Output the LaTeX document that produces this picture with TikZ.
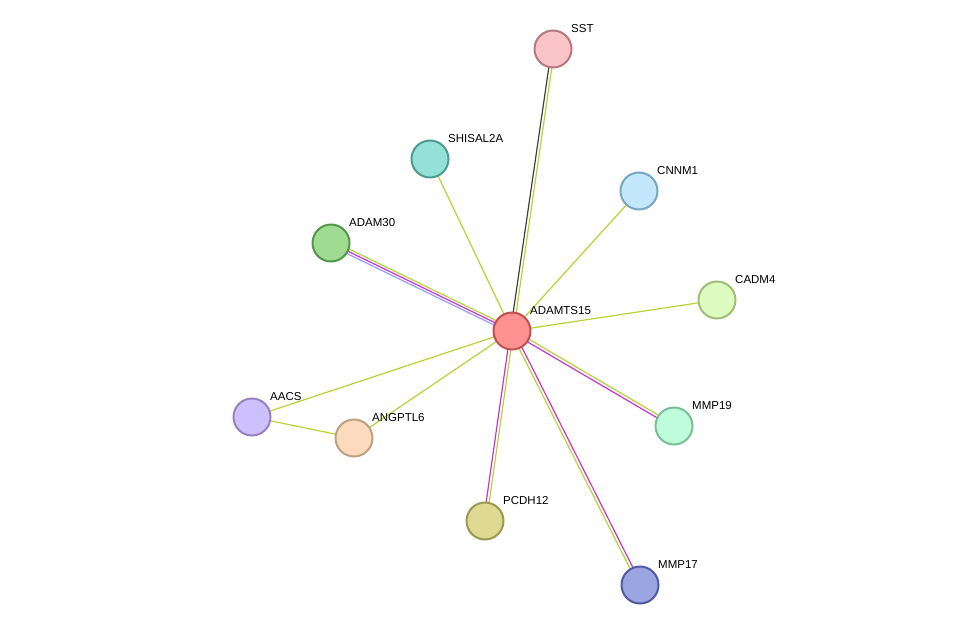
\documentclass[tikz,border=0pt]{standalone}
\usepackage{fontspec}
\setmainfont{Liberation Sans}
\usetikzlibrary{calc}
\definecolor{ygc}{HTML}{B5D334}
\definecolor{mgc}{HTML}{CC33CC}
\definecolor{blc}{HTML}{9999FF}
\begin{document}
\begin{tikzpicture}[x=1pt,y=-1pt,
  prot/.style={circle,minimum size=37pt,inner sep=0pt,line width=2pt},
  lbl/.style={font=\fontsize{11.5}{12}\selectfont,anchor=south west,inner sep=0pt},
  yg/.style={draw=ygc,line width=1.2pt},
  mg/.style={draw=mgc,line width=1.2pt},
  bk/.style={draw=black!75,line width=1.2pt},
  bl/.style={draw=blc,line width=1.2pt}]
\useasboundingbox (0,0) rectangle (976,631);
\coordinate (c) at (512,331);
\coordinate (sst) at (553,49);
\coordinate (shi) at (430,159);
\coordinate (cnn) at (639,191);
\coordinate (ad30) at (331,243);
\coordinate (cad) at (717,300);
\coordinate (aacs) at (252,417);
\coordinate (ang) at (354,438);
\coordinate (m19) at (674,426);
\coordinate (pc) at (485,521);
\coordinate (m17) at (640,585);
\newcommand{\off}[4]{\draw[#1] ($(#2)!#4!90:(#3)$) -- ($(#3)!#4!-90:(#2)$);}
\off{bk}{c}{sst}{1.5pt}\off{yg}{c}{sst}{-1.5pt}
\draw[yg] (c)--(shi); \draw[yg] (c)--(cnn); \draw[yg] (c)--(cad);
\draw[yg] (c)--(aacs); \draw[yg] (c)--(ang); \draw[yg] (aacs)--(ang);
\off{yg}{c}{ad30}{-2.5pt}\off{mg}{c}{ad30}{0pt}\off{bl}{c}{ad30}{2.5pt}
\off{mg}{c}{m19}{-1.5pt}\off{yg}{c}{m19}{1.5pt}
\off{mg}{c}{pc}{-1.5pt}\off{yg}{c}{pc}{1.5pt}
\off{mg}{c}{m17}{1.5pt}\off{yg}{c}{m17}{-1.5pt}
\node[prot,fill={rgb,255:red,255;green,145;blue,145},draw={rgb,255:red,190;green,80;blue,80}] (C) at (c) {};
\node[prot,fill={rgb,255:red,250;green,195;blue,200},draw={rgb,255:red,180;green,120;blue,125}] (SST) at (sst) {};
\node[prot,fill={rgb,255:red,150;green,225;blue,215},draw={rgb,255:red,75;green,155;blue,145}] (SHI) at (shi) {};
\node[prot,fill={rgb,255:red,195;green,232;blue,252},draw={rgb,255:red,120;green,165;blue,195}] (CNN) at (cnn) {};
\node[prot,fill={rgb,255:red,158;green,220;blue,145},draw={rgb,255:red,85;green,150;blue,75}] (AD) at (ad30) {};
\node[prot,fill={rgb,255:red,222;green,252;blue,192},draw={rgb,255:red,160;green,190;blue,115}] (CAD) at (cad) {};
\node[prot,fill={rgb,255:red,205;green,192;blue,255},draw={rgb,255:red,150;green,130;blue,195}] (AA) at (aacs) {};
\node[prot,fill={rgb,255:red,252;green,218;blue,190},draw={rgb,255:red,190;green,160;blue,130}] (AN) at (ang) {};
\node[prot,fill={rgb,255:red,190;green,252;blue,220},draw={rgb,255:red,120;green,190;blue,150}] (M19) at (m19) {};
\node[prot,fill={rgb,255:red,222;green,218;blue,148},draw={rgb,255:red,155;green,152;blue,80}] (PC) at (pc) {};
\node[prot,fill={rgb,255:red,155;green,165;blue,225},draw={rgb,255:red,80;green,90;blue,160}] (M17) at (m17) {};
\node[lbl] at (530,315) {ADAMTS15};
\node[lbl] at (571,33) {SST};
\node[lbl] at (448,143) {SHISAL2A};
\node[lbl] at (657,175) {CNNM1};
\node[lbl] at (349,227) {ADAM30};
\node[lbl] at (735,284) {CADM4};
\node[lbl] at (270,401) {AACS};
\node[lbl] at (372,422) {ANGPTL6};
\node[lbl] at (692,410) {MMP19};
\node[lbl] at (503,505) {PCDH12};
\node[lbl] at (658,569) {MMP17};
\end{tikzpicture}
\end{document}
